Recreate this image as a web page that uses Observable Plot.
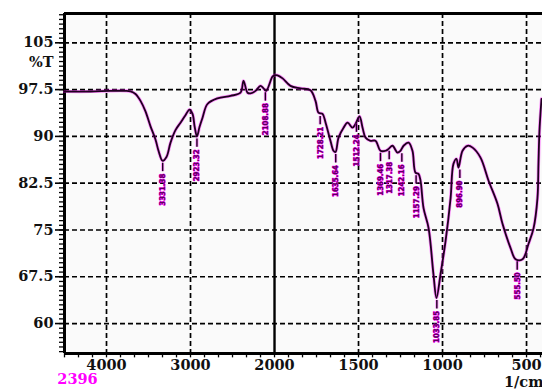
<!DOCTYPE html>
<html><head><meta charset="utf-8">
<script src="https://cdn.jsdelivr.net/npm/d3@7"></script>
<script src="https://cdn.jsdelivr.net/npm/@observablehq/plot@0.6"></script>
<style>body{margin:0;background:#fff;} svg{display:block}</style>
</head><body><div id="chart"></div>
<script>
// Spectrum (wavenumber in 1/cm, transmittance in %T)
const wavenumbers = [4500,4190,3952,3774,3714,3655,3595,3536,3476,3417,3381,3333,3286,3238,3179,3119,3060,3012,2976,2950,2923,2893,2857,2798,2679,2524,2405,2369,2321,2286,2226,2167,2131,2100,2024,2000,1982,1952,1905,1845,1786,1756,1738,1714,1696,1667,1649,1637,1619,1589,1565,1536,1518,1494,1476,1458,1429,1399,1369,1339,1321,1298,1268,1250,1232,1202,1179,1161,1143,1131,1113,1083,1054,1036,1012,982,952,935,917,905,881,851,821,774,726,673,643,595,565,524,488,458,435,429,423,411];
const transmittance = [97.2,97.2,97.3,97.3,97.2,96.8,95.7,94.0,91.6,89.5,87.7,86.1,86.7,89.0,91.0,92.2,93.4,94.3,93.6,91.5,90.0,91.5,93.0,95.2,96.1,96.5,97.0,98.9,97.0,96.9,97.3,98.1,97.7,97.3,99.6,99.8,99.8,99.3,98.1,97.7,97.4,95.7,93.8,93.6,92.2,89.3,87.7,87.5,89.8,91.4,92.2,91.4,92.0,93.2,91.4,89.8,89.3,89.3,87.7,87.7,88.0,88.5,87.4,87.7,88.5,89.0,87.7,84.2,84.0,82.9,78.5,75.3,67.9,64.1,67.9,73.2,80.1,85.6,86.4,85.0,87.7,88.5,88.2,86.6,82.9,79.2,76.0,72.1,70.3,70.3,72.8,75.3,80.1,85.6,90.9,96.0];

// Peak annotations
const peakWavenumbers = [3331.38,2923.32,2108.88,1728.21,1635.64,1512.24,1369.46,1317.38,1242.16,1157.29,1033.85,896.90,555.50];
const peakTransmittance = [86.1,90.0,97.4,93.6,87.5,92.4,87.7,88.0,87.6,84.1,64.1,85.0,70.3];
const peakLabels = ["3331.38","2923.32","2108.88","1728.21","1635.64","1512.24","1369.46","1317.38","1242.16","1157.29","1033.85","896.90","555.50"];

// Axes
const xTickValues = [4000,3000,2000,1500,1000,500];
const xDashedGrid = [4000,3000,1500,1000,500];
const xSolidGrid = [2000];
const yTickValues = [60,67.5,75,82.5,90,97.5,105];
const yAxisTitle = "%T";
const xAxisTitle = "1/cm";
const sampleId = "2396";

const xLimits = [4500, 405];
const xBreak = 2000;   // scale expands 2x below 2000 1/cm
const yDomain = [55.2,109.7];

// piecewise-linear wavenumber axis (as on the instrument printout)
const expand = w => w >= xBreak ? w - xBreak : 2 * (w - xBreak);

const spectrum = wavenumbers.map((w,i)=>({w, t: transmittance[i]}));
const peaks = peakWavenumbers.map((w,i)=>({w, t: peakTransmittance[i], label: peakLabels[i]}));

const minorX = d3.range(-3, 24).map(k => 4000 - k*1000/6).filter(v => v <= 4500 && v >= 2000)
  .concat(d3.range(1, 20).map(k => 2000 - k*500/6).filter(v => v >= 405));
const minorY = d3.range(-6, 67).map(k => 60 + k*0.75).filter(v => v > yDomain[0] && v < yDomain[1]);

const serif = "DejaVu Serif, Liberation Serif, serif";

const chart = Plot.plot({
  width: 542, height: 390,
  marginLeft: 64, marginRight: 0, marginTop: 13, marginBottom: 37,
  style: {fontFamily: serif, fontWeight: "bold", background: "#fff", overflow: "visible"},
  x: {type: "linear", transform: expand, domain: xLimits.map(expand), label: null, axis: null},
  y: {domain: yDomain, label: null},
  marks: [
    Plot.frame({fill: "#fafafa", stroke: null}),
    Plot.ruleY(yTickValues, {stroke: "#000", strokeWidth: 1.7, strokeDasharray: "5,3"}),
    Plot.ruleX(xDashedGrid, {stroke: "#000", strokeWidth: 1.7, strokeDasharray: "5,3"}),
    Plot.ruleX(xSolidGrid, {stroke: "#000", strokeWidth: 2.4}),
    // frame edges
    Plot.ruleX([xLimits[0]], {stroke: "#000", strokeWidth: 3}),
    Plot.ruleY([yDomain[0]], {stroke: "#000", strokeWidth: 3}),
    Plot.ruleY([yDomain[1]], {stroke: "#000", strokeWidth: 3}),
    // spectrum
    Plot.line(spectrum, {x: "w", y: "t", curve: "catmull-rom", stroke: "#ff00ff", strokeWidth: 3.2, strokeOpacity: 0.45}),
    Plot.line(spectrum, {x: "w", y: "t", curve: "catmull-rom", stroke: "#1e001e", strokeWidth: 1.8}),
    // peak markers
    Plot.ruleX(peaks, {x: "w", y1: d => d.t - 0.4, y2: d => d.t - 1.75, stroke: "#ff00ff", strokeWidth: 3, strokeOpacity: 0.45}),
    Plot.ruleX(peaks, {x: "w", y1: d => d.t - 0.4, y2: d => d.t - 1.75, stroke: "#1e001e", strokeWidth: 1.4}),
    Plot.text(peaks, {x: "w", y: "t", text: "label", rotate: -90, textAnchor: "end", lineAnchor: "middle", dy: 13,
      fontFamily: "DejaVu Sans Condensed, DejaVu Sans, sans-serif", fontSize: 7.8, fontWeight: "bold",
      fill: "#5a005a", stroke: "#ff00ff", strokeWidth: 0.9, paintOrder: "stroke"}),
    // y axis
    Plot.axisY({ticks: minorY, tickSize: 5, tickFormat: () => "", strokeWidth: 1.3}),
    Plot.axisY({ticks: yTickValues, tickSize: 9, tickPadding: 2, tickFormat: d => String(d), fontSize: 14.5, strokeWidth: 1.6, fill: "#111"}),
    Plot.text([yAxisTitle], {frameAnchor: "left", y: [101.8], text: d => d, dx: -11, textAnchor: "end", fontSize: 14.5, fill: "#111"}),
    // x axis (drawn with marks so the piecewise scale transform applies)
    Plot.ruleX(minorX, {x: d => d, y1: () => yDomain[0], y2: () => yDomain[0] - 0.7, stroke: "#000", strokeWidth: 1.3}),
    Plot.text(xTickValues, {x: d => d, frameAnchor: "bottom", dy: 16, text: d => String(d), fontSize: 14.5, fill: "#111"}),
    Plot.text([xAxisTitle], {frameAnchor: "bottom-right", text: d => d, textAnchor: "end", dy: 33, dx: 1, fontSize: 14.5, fill: "#111"}),
    Plot.text([sampleId], {frameAnchor: "bottom-left", text: d => d, textAnchor: "middle", dx: 13, dy: 30, fontSize: 14.5, fill: "#ff00ff"})
  ]
});
document.getElementById("chart").appendChild(chart);
</script>
</body></html>
